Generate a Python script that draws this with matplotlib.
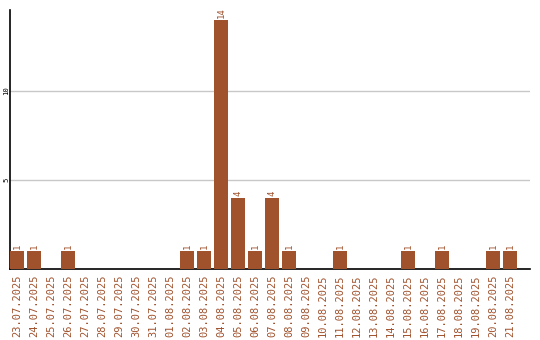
import matplotlib
matplotlib.use("Agg")
import matplotlib.pyplot as plt

dates = ["23.07.2025", "24.07.2025", "25.07.2025", "26.07.2025", "27.07.2025",
         "28.07.2025", "29.07.2025", "30.07.2025", "31.07.2025", "01.08.2025",
         "02.08.2025", "03.08.2025", "04.08.2025", "05.08.2025", "06.08.2025",
         "07.08.2025", "08.08.2025", "09.08.2025", "10.08.2025", "11.08.2025",
         "12.08.2025", "13.08.2025", "14.08.2025", "15.08.2025", "16.08.2025",
         "17.08.2025", "18.08.2025", "19.08.2025", "20.08.2025", "21.08.2025"]
counts = [1, 1, 0, 1, 0, 0, 0, 0, 0, 0,
          1, 1, 14, 4, 1, 4, 1, 0, 0, 1,
          0, 0, 0, 1, 0, 1, 0, 0, 1, 1]
yticks = [5, 10]

brown = "#a0522d"

fig = plt.figure(figsize=(5.4, 3.4), dpi=100)
ax = fig.add_axes([10/540, 71/340, 520/540, 259/340])

x = list(range(len(dates)))
ax.bar(x, counts, width=0.82, color=brown, zorder=3)

for i, v in enumerate(counts):
    if v > 0:
        ax.text(i, v + 0.12, str(v), rotation=90, ha="center", va="bottom",
                fontsize=6.5, color=brown, family="DejaVu Sans Mono")

ax.set_xlim(-0.41, 30.18)
ax.set_ylim(0, 14.55)
ax.set_yticks(yticks)
ax.set_yticklabels([str(t) for t in yticks], rotation=90, va="center",
                   fontsize=5.2, family="DejaVu Sans Mono")
ax.tick_params(axis="y", length=0, pad=0.5)
ax.set_xticks(x)
ax.set_xticklabels(dates, rotation=90, fontsize=7.5, color=brown,
                   family="DejaVu Sans Mono")
ax.tick_params(axis="x", length=0, pad=4)
ax.grid(axis="y", color="#c8c8c8", linewidth=1, zorder=0)

ax.spines["top"].set_visible(False)
ax.spines["right"].set_visible(False)
ax.spines["left"].set_linewidth(1.2)
ax.spines["bottom"].set_linewidth(1.2)

fig.savefig("out.png", dpi=100)
